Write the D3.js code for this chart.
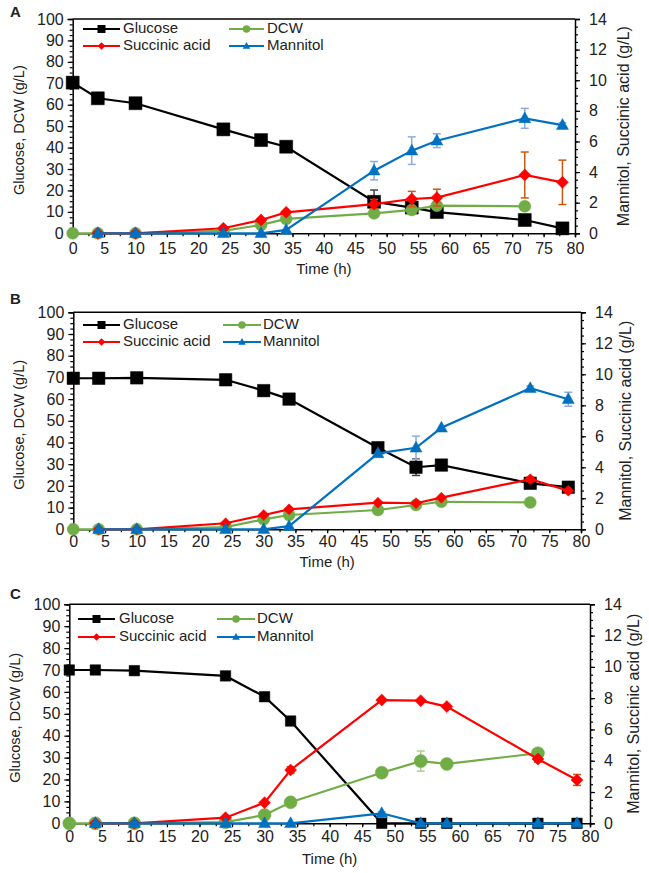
<!DOCTYPE html>
<html><head><meta charset="utf-8">
<script src="https://cdn.jsdelivr.net/npm/d3@7"></script>
<style>body{margin:0;background:#fff}svg{display:block}text{font-family:"Liberation Sans",Arial,sans-serif;fill:#222}</style>
</head><body><svg id="c" width="649" height="873"></svg>
<script>
// ---------- data ----------
const hours = [0, 4, 10, 24, 30, 34, 48, 54, 58, 72, 78];
const xTickValues = [0, 5, 10, 15, 20, 25, 30, 35, 40, 45, 50, 55, 60, 65, 70, 75, 80];
const leftTickValues = [0, 10, 20, 30, 40, 50, 60, 70, 80, 90, 100];
const rightTickValues = [0, 2, 4, 6, 8, 10, 12, 14];
const seriesNames = ["Glucose", "DCW", "Succinic acid", "Mannitol"];
const panelLabels = ["A", "B", "C"];
const xTitle = "Time (h)";
const leftTitle = "Glucose, DCW (g/L)";
const rightTitle = "Mannitol,  Succinic acid (g/L)";

// Panel A
const glucoseA   = [70.3, 63, 60.7, 48.5, 43.5, 40.4, 14.7, 12, 9.9, 6.2, 2.3];
const dcwA       = [0, 0, 0, 1.1, 3.9, 6.7, 9.3, 10.9, 12.9, 12.6, null];
const succinicA  = [null, 0, 0, 0.33, 0.87, 1.37, 1.91, 2.24, 2.33, 3.81, 3.33];
const mannitolA  = [null, 0, 0, 0, 0, 0.22, 4.09, 5.4, 6.05, 7.51, 7.07];
const glucoseErrA  = [0, 0, 0, 0, 0, 0, 5.5, 1, 0, 0, 0];
const dcwErrA      = [0, 0, 0, 0, 0, 0, 0, 0.8, 0, 0, 0];
const succinicErrA = [0, 0, 0, 0, 0, 0, 0.3, 0.5, 0.55, 1.5, 1.45];
const mannitolErrA = [0, 0, 0, 0, 0, 0, 0.6, 0.9, 0.45, 0.65, 0.15];

// Panel B
const glucoseB   = [69.6, 69.6, 69.8, 68.9, 63.9, 60, 37.6, 28.6, 29.6, 21.2, 19.4];
const dcwB       = [0, 0, 0, 1, 4.6, 6.6, 8.9, 11.2, 12.7, 12.4, null];
const succinicB  = [null, 0, 0, 0.39, 0.92, 1.29, 1.72, 1.68, 2.04, 3.23, 2.49];
const mannitolB  = [null, 0, 0, 0, 0, 0.2, 4.9, 5.26, 6.55, 9.1, 8.39];
const glucoseErrB  = [0, 0, 0, 0, 0, 0, 1, 3.8, 0, 0, 0];
const dcwErrB      = [0, 0, 0, 0, 0, 0, 0, 0, 0, 0, 0];
const succinicErrB = [0, 0, 0, 0, 0, 0, 0, 0, 0, 0.15, 0];
const mannitolErrB = [0, 0, 0, 0, 0, 0, 0, 0.75, 0, 0.15, 0.45];

// Panel C
const glucoseC   = [70, 70, 69.7, 67.3, 57.8, 46.7, 0, 0, 0, 0, 0];
const dcwC       = [0, 0, 0, 0.5, 3.8, 9.6, 23.1, 28.4, 27.1, 32, null];
const succinicC  = [null, 0, 0, 0.36, 1.32, 3.41, 7.88, 7.84, 7.46, 4.11, 2.77];
const mannitolC  = [null, 0, 0, 0, 0, 0, 0.64, 0, 0, 0, 0];
const glucoseErrC  = [0, 0, 0, 0, 0, 0, 0, 0, 0, 0, 0];
const dcwErrC      = [0, 0, 0, 0, 0, 0, 0, 4.6, 0, 0.8, 0];
const succinicErrC = [0, 0, 0, 0, 0, 0.2, 0, 0, 0, 0.2, 0.35];
const mannitolErrC = [0, 0, 0, 0, 0, 0, 0.1, 0, 0, 0, 0];

// ---------- layout / styles ----------
const seriesStyle = [
  {color: "#000000", err: "#404040", shape: "square", axis: "L"},
  {color: "#70ad47", err: "#a9d18e", shape: "circle", axis: "L"},
  {color: "#ff0000", err: "#c55a11", shape: "diamond", axis: "R"},
  {color: "#0070c0", err: "#8faadc", shape: "triangle", axis: "R"}
];
const panels = [
  {label: panelLabels[0], data: [glucoseA, dcwA, succinicA, mannitolA], errs: [glucoseErrA, dcwErrA, succinicErrA, mannitolErrA],
   left: 72.7, right: 575, top: 19, bottom: 233.3, labelY: 13,
   msize: [13, 12, 12, 12], legRows: [29, 46], legCols: [[83, 120, 123], [229, 264, 267]],
   leftTitleX: 20, rightTitleX: 625, xLabY: 250, xTitleY: 270},
  {label: panelLabels[1], data: [glucoseB, dcwB, succinicB, mannitolB], errs: [glucoseErrB, dcwErrB, succinicErrB, mannitolErrB],
   left: 73.3, right: 581, top: 312.3, bottom: 529.3, labelY: 300,
   msize: [12.5, 12, 11, 12], legRows: [325, 342], legCols: [[83, 120, 123], [223, 261, 263]],
   leftTitleX: 20, rightTitleX: 627, xLabY: 543, xTitleY: 563},
  {label: panelLabels[2], data: [glucoseC, dcwC, succinicC, mannitolC], errs: [glucoseErrC, dcwErrC, succinicErrC, mannitolErrC],
   left: 69.3, right: 590, top: 604.3, bottom: 823.3, labelY: 595,
   msize: [10.5, 13, 12, 12], legRows: [619, 637], legCols: [[78, 115, 119], [217, 255, 257]],
   leftTitleX: 16, rightTitleX: 635, xLabY: 838, xTitleY: 860}
];

const svg = d3.select("#c");

function shapePath(shape, s) {
  const h = s / 2;
  if (shape === "square") return `M${-h},${-h}h${s}v${s}h${-s}Z`;
  if (shape === "circle") return d3.symbol(d3.symbolCircle, Math.PI * h * h)();
  if (shape === "diamond") return `M0,${-h}L${h},0L0,${h}L${-h},0Z`;
  if (shape === "triangle") { const th = s * 0.9; return `M0,${-th * 0.6}L${h},${th * 0.4}L${-h},${th * 0.4}Z`; }
}

panels.forEach(p => {
  const g = svg.append("g");
  const x = d3.scaleLinear().domain([0, 80]).range([p.left, p.right]);
  const yL = d3.scaleLinear().domain([0, 100]).range([p.bottom, p.top]);
  const yR = d3.scaleLinear().domain([0, 14]).range([p.bottom, p.top]);

  // frame
  g.append("line").attr("x1", p.left).attr("x2", p.right).attr("y1", p.top).attr("y2", p.top)
    .attr("stroke", "#000").attr("stroke-width", 1.5);

  const fontSize = "16px";
  // left axis
  const la = g.append("g").attr("transform", `translate(${p.left},0)`)
    .call(d3.axisLeft(yL).tickValues(leftTickValues).tickSize(5).tickPadding(4));
  g.append("g").attr("transform", `translate(${p.left},0)`)
    .call(d3.axisLeft(yL).tickValues(d3.range(0, 100.1, 2.5)).tickSize(3).tickFormat(""))
    .select(".domain").remove();
  // right axis
  const ra = g.append("g").attr("transform", `translate(${p.right},0)`)
    .call(d3.axisRight(yR).tickValues(rightTickValues).tickSize(5).tickPadding(9));
  g.append("g").attr("transform", `translate(${p.right},0)`)
    .call(d3.axisRight(yR).tickValues(d3.range(0, 14.01, 0.5)).tickSize(3).tickFormat(""))
    .select(".domain").remove();
  // bottom axis
  const ba = g.append("g").attr("transform", `translate(0,${p.bottom})`)
    .call(d3.axisBottom(x).tickValues(xTickValues).tickSize(4).tickPadding(5));
  g.append("g").attr("transform", `translate(0,${p.bottom})`)
    .call(d3.axisBottom(x).tickValues(d3.range(0, 80.1, 2.5)).tickSize(3).tickFormat(""))
    .select(".domain").remove();
  g.selectAll(".domain").attr("stroke", "#000").attr("stroke-width", 1.5);
  g.selectAll(".tick line").attr("stroke", "#000").attr("stroke-width", 1.2);
  [la, ra, ba].forEach(a => a.selectAll("text").style("font-size", fontSize).attr("fill", "#222")
      .style("font-family", '"Liberation Sans",Arial,sans-serif'));
  ba.selectAll("text").attr("y", null).attr("dy", null).attr("dominant-baseline", "middle")
    .attr("transform", `translate(0,${p.xLabY - p.bottom})`);

  // titles
  g.append("text").attr("x", (p.left + p.right) / 2).attr("y", p.xTitleY).attr("text-anchor", "middle")
    .attr("dominant-baseline", "middle").style("font-size", "15px").text(xTitle);
  g.append("text").attr("transform", `translate(${p.leftTitleX},${(p.top + p.bottom) / 2 + 4}) rotate(-90)`)
    .attr("text-anchor", "middle").attr("dominant-baseline", "middle").style("font-size", "14.5px").text(leftTitle);
  g.append("text").attr("transform", `translate(${p.rightTitleX},${(p.top + p.bottom) / 2}) rotate(-90)`)
    .attr("text-anchor", "middle").attr("dominant-baseline", "middle").style("font-size", "16px").text(rightTitle);
  g.append("text").attr("x", 10).attr("y", p.labelY).attr("dominant-baseline", "middle")
    .style("font-size", "15px").style("font-weight", "bold").text(p.label);

  // series
  p.data.forEach((vals, si) => {
    const st = seriesStyle[si];
    const y = st.axis === "L" ? yL : yR;
    const pts = hours.map((h, i) => ({h, v: vals[i], e: p.errs[si][i]})).filter(d => d.v != null);
    g.append("path").datum(pts)
      .attr("d", d3.line().x(d => x(d.h)).y(d => y(d.v)))
      .attr("fill", "none").attr("stroke", st.color).attr("stroke-width", 2.2);
    pts.filter(d => d.e > 0).forEach(d => {
      const cx = x(d.h), y1 = y(d.v - d.e), y2 = y(d.v + d.e);
      g.append("line").attr("x1", cx).attr("x2", cx).attr("y1", y1).attr("y2", y2)
        .attr("stroke", st.err).attr("stroke-width", 1.5);
      [y1, y2].forEach(yy => g.append("line").attr("x1", cx - 4).attr("x2", cx + 4).attr("y1", yy).attr("y2", yy)
        .attr("stroke", st.err).attr("stroke-width", 1.5));
    });
    g.selectAll(null).data(pts).enter().append("path")
      .attr("d", shapePath(st.shape, p.msize[si]))
      .attr("transform", d => `translate(${x(d.h)},${y(d.v)})`)
      .attr("fill", st.color).attr("stroke", st.color).attr("stroke-width", 0.5);
  });

  // legend
  const legPos = [[0, 0], [0, 1], [1, 0], [1, 1]]; // [row, col]
  seriesNames.forEach((name, si) => {
    const st = seriesStyle[si];
    const [r, c] = legPos[si];
    const yy = p.legRows[r];
    const [x1, x2, tx] = p.legCols[c];
    g.append("line").attr("x1", x1).attr("x2", x2).attr("y1", yy).attr("y2", yy)
      .attr("stroke", st.color).attr("stroke-width", 2.2);
    g.append("path").attr("d", shapePath(st.shape, st.shape === "square" ? 8 : 7.5))
      .attr("transform", `translate(${(x1 + x2) / 2},${yy})`).attr("fill", st.color);
    g.append("text").attr("x", tx).attr("y", yy).attr("dominant-baseline", "middle")
      .style("font-size", "15px").text(name);
  });
});
</script></body></html>
